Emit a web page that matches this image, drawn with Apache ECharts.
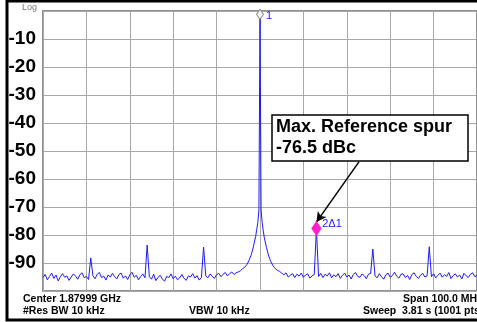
<!DOCTYPE html>
<html><head><meta charset="utf-8">
<script src="https://cdn.jsdelivr.net/npm/echarts@6/dist/echarts.min.js"></script>
<style>html,body{margin:0;padding:0;background:#fff}#c{width:477px;height:322px}</style>
</head><body><div id="c"></div>
<script>
// Frequency offset from center (MHz), sweep start and step of the coarse trace
const startMHz = -50;
const stepMHz = 0.5;
// Trace level (dB) at each coarse step from -50 MHz to +50 MHz
const traceLevel = [
-95.2,-94.1,-96.0,-94.8,-93.6,-95.5,-94.3,-96.4,-94.9,-93.8,-95.1,-94.6,-96.2,-95.0,-93.9,-94.7,-95.8,-94.2,-93.5,-95.3,-94.8,-95.9,
-88.2,
-94.5,-95.6,-94.0,-93.4,-95.2,-94.7,-96.1,-94.3,-95.0,-93.7,-94.9,-95.7,-94.1,-93.6,-95.4,-94.6,-95.9,-94.2,-93.3,-95.1,-94.4,-96.0,-94.8,-93.9,-95.3,
-83.6,
-94.9,-95.8,-94.0,-96.3,-95.1,-94.4,-95.7,-96.5,-94.8,-95.2,-93.9,-95.6,-94.7,-96.0,-95.3,-94.1,-95.5,-96.2,-94.6,-95.0,-93.8,-95.4,-94.5,-96.1,-95.2,
-84.3,
-94.6,-95.3,-93.9,-94.8,-95.5,-94.2,-93.7,-94.9,-94.0,-93.4,-94.6,-93.8,-93.2,-94.1,-93.5,
-93.2,-92.8,-92.0,-91.5,-90.5,-89.0,-87.0,-84.0,-80.5,-75.5,
-1.2,
-75.5,-81.0,-84.5,-87.5,-89.5,-91.0,-92.0,-92.6,-93.0,-93.6,
-94.2,-93.5,-95.0,-94.4,-93.8,-95.2,-94.0,-94.7,-93.6,-95.1,-94.3,-93.9,-95.4,-94.6,-94.1,
-77.7,
-94.8,-93.7,-95.2,-94.0,-94.6,-93.5,-95.3,-94.2,-94.9,-93.8,-95.5,-94.4,-93.6,-95.0,-94.3,-95.7,-94.1,-93.4,-94.8,-95.1,-93.9,-94.5,-95.6,-94.0,-93.7,
-85.0,
-94.6,-95.3,-93.8,-94.9,-95.8,-94.2,-93.6,-95.1,-94.5,-93.3,-94.7,-95.4,-94.0,-93.9,-95.2,-94.4,-95.9,-94.1,-93.5,-94.8,-95.5,-94.3,-93.7,-95.0,-94.6,
-84.2,
-94.9,-93.8,-95.3,-94.4,-93.6,-95.1,-94.2,-94.8,-93.4,-95.6,-94.5,-93.9,-95.0,-94.3,-95.7,-93.7,-94.6,-95.2,-94.0,-93.5,-94.9,-94.4
];
// Extra fine samples on the carrier skirt
const carrierFreq = [-0.75, -0.25, 0.25, 0.75];
const carrierLevel = [-78.0, -71.0, -71.0, -78.5];
// Markers
const markerPeak = [0, -1.2];
const markerSpur = [13, -77.7];
const yTicks = [-10,-20,-30,-40,-50,-60,-70,-80,-90];
// Annotation arrow (data coords)
const arrowFrom = [22.8, -53.9];
const arrowTo = [13.0, -75.4];

const pts = traceLevel.map((v, i) => [startMHz + i * stepMHz, v]);
carrierFreq.forEach((f, i) => pts.push([f, carrierLevel[i]]));
pts.sort((a, b) => a[0] - b[0]);

const BLUE = '#1a1aff';
const chart = echarts.init(document.getElementById('c'), null, {renderer: 'canvas'});
chart.setOption({
  animation: false,
  backgroundColor: '#fff',
  grid: {left: 43, top: 11, width: 438, height: 280, show: true, borderColor: '#909090', borderWidth: 2, backgroundColor: '#fff'},
  xAxis: {type: 'value', min: -50, max: 50, interval: 10,
    axisLine: {show: false}, axisTick: {show: false}, axisLabel: {show: false},
    splitLine: {show: true, lineStyle: {color: '#a8a8a8', width: 1}}},
  yAxis: {type: 'value', min: -100, max: 0, interval: 10,
    axisLine: {show: false}, axisTick: {show: false},
    axisLabel: {margin: 7, color: '#000', fontFamily: 'Arial, Liberation Sans', fontWeight: 'bold', fontSize: 19,
      formatter: v => yTicks.includes(v) ? String(v) : ''},
    splitLine: {show: true, lineStyle: {color: '#a8a8a8', width: 1}}},
  series: [{
    type: 'line', data: pts, showSymbol: false, symbol: 'none',
    lineStyle: {color: BLUE, width: 1}, clip: true,
    markPoint: {
      symbolKeepAspect: false,
      data: [
        {coord: markerPeak, symbol: 'diamond', symbolSize: [7, 10],
          itemStyle: {color: '#f4f4f4', borderColor: '#888', borderWidth: 1},
          label: {show: true, position: 'right', distance: 2, formatter: '1', color: BLUE, fontSize: 11, fontFamily: 'Arial, Liberation Sans', offset: [0, 2]}},
        {coord: markerSpur, symbol: 'diamond', symbolSize: [8, 12],
          itemStyle: {color: '#ff22cc', borderColor: '#ff22cc'},
          label: {show: true, position: 'right', distance: 1, formatter: '2\u03941', color: BLUE, fontSize: 11, fontFamily: 'Arial, Liberation Sans', offset: [0, -5]}}
      ]
    },
    markLine: {
      silent: true, symbol: ['none', 'arrow'], symbolSize: [8, 10],
      lineStyle: {color: '#000', width: 1.5, type: 'solid'},
      label: {show: false},
      data: [[{coord: arrowFrom}, {coord: arrowTo}]]
    }
  }],
  graphic: [
    {type: 'rect', shape: {x: 7, y: 1, width: 490, height: 319}, style: {fill: 'none', stroke: '#000', lineWidth: 3}, z: 100},
    {type: 'text', x: 22, y: 3, style: {text: 'Log', fill: '#777', font: '9px Arial, Liberation Sans'}, z: 100},
    {type: 'rect', shape: {x: 272, y: 115, width: 196, height: 46}, style: {fill: '#fff', stroke: '#000', lineWidth: 1.5}, z: 100},
    {type: 'text', x: 276, y: 118, style: {text: 'Max. Reference spur', fill: '#000', font: 'bold 18px Arial, Liberation Sans'}, z: 101},
    {type: 'text', x: 276, y: 139, style: {text: '-76.5 dBc', fill: '#000', font: 'bold 18px Arial, Liberation Sans'}, z: 101},
    {type: 'text', x: 23, y: 294, style: {text: 'Center 1.87999 GHz', fill: '#000', font: 'bold 10.5px Arial, Liberation Sans'}, z: 100},
    {type: 'text', x: 23, y: 306, style: {text: '#Res BW 10 kHz', fill: '#000', font: 'bold 10.5px Arial, Liberation Sans'}, z: 100},
    {type: 'text', x: 189, y: 306, style: {text: 'VBW 10 kHz', fill: '#000', font: 'bold 10.5px Arial, Liberation Sans'}, z: 100},
    {type: 'text', x: 403, y: 294, style: {text: 'Span 100.0 MHz', fill: '#000', font: 'bold 10.5px Arial, Liberation Sans'}, z: 100},
    {type: 'text', x: 363, y: 306, style: {text: 'Sweep  3.81 s (1001 pts)', fill: '#000', font: 'bold 10.5px Arial, Liberation Sans'}, z: 100}
  ]
});
</script></body></html>
